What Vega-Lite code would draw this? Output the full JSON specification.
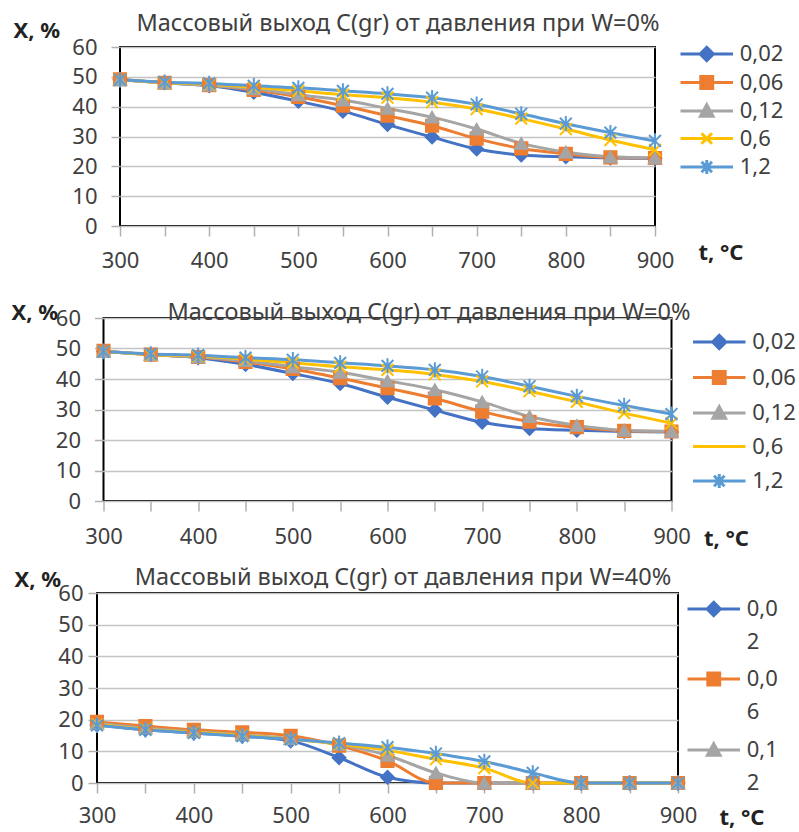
{
  "$schema": "https://vega.github.io/schema/vega-lite/v6.json",
  "background": "white",
  "padding": {"left": 10, "top": 10, "right": 0, "bottom": 0},
  "config": {
    "font": "Noto Sans",
    "view": {"stroke": "#000000", "strokeWidth": 2},
    "axis": {"labelFontSize": 22, "labelColor": "#404040", "titleFontSize": 22, "titleColor": "#222222", "titleFontWeight": "bold", "domain": false, "tickColor": "#b0b0b0", "tickWidth": 1.5, "gridColor": "#c4c4c4", "gridWidth": 1.5, "labelFont": "Noto Sans", "titleFont": "Noto Sans"},
    "title": {"fontSize": 23.5, "fontWeight": "normal", "color": "#404040", "font": "Noto Sans"},
    "legend": {"labelFontSize": 22, "labelColor": "#404040", "labelFont": "Noto Sans"},
    "style": {"guide-label": {"lineHeight": 33}}
  },
  "datasets": {
    "w0": [
      {"s": "0,02", "t": 300, "x": 49}, {"s": "0,02", "t": 350, "x": 48}, {"s": "0,02", "t": 400, "x": 47}, {"s": "0,02", "t": 450, "x": 44.8}, {"s": "0,02", "t": 500, "x": 41.8}, {"s": "0,02", "t": 550, "x": 38.5}, {"s": "0,02", "t": 600, "x": 34}, {"s": "0,02", "t": 650, "x": 29.8}, {"s": "0,02", "t": 700, "x": 25.8}, {"s": "0,02", "t": 750, "x": 23.8}, {"s": "0,02", "t": 800, "x": 23.2}, {"s": "0,02", "t": 850, "x": 22.8}, {"s": "0,02", "t": 900, "x": 22.6},
      {"s": "0,06", "t": 300, "x": 49.2}, {"s": "0,06", "t": 350, "x": 48}, {"s": "0,06", "t": 400, "x": 47.2}, {"s": "0,06", "t": 450, "x": 45.6}, {"s": "0,06", "t": 500, "x": 43.3}, {"s": "0,06", "t": 550, "x": 40.3}, {"s": "0,06", "t": 600, "x": 37}, {"s": "0,06", "t": 650, "x": 33.6}, {"s": "0,06", "t": 700, "x": 29.3}, {"s": "0,06", "t": 750, "x": 26}, {"s": "0,06", "t": 800, "x": 24.2}, {"s": "0,06", "t": 850, "x": 23}, {"s": "0,06", "t": 900, "x": 22.8},
      {"s": "0,12", "t": 300, "x": 49}, {"s": "0,12", "t": 350, "x": 48}, {"s": "0,12", "t": 400, "x": 47.2}, {"s": "0,12", "t": 450, "x": 46}, {"s": "0,12", "t": 500, "x": 44}, {"s": "0,12", "t": 550, "x": 42.2}, {"s": "0,12", "t": 600, "x": 39.4}, {"s": "0,12", "t": 650, "x": 36.5}, {"s": "0,12", "t": 700, "x": 32.5}, {"s": "0,12", "t": 750, "x": 27.7}, {"s": "0,12", "t": 800, "x": 24.8}, {"s": "0,12", "t": 850, "x": 23.2}, {"s": "0,12", "t": 900, "x": 22.8},
      {"s": "0,6", "t": 300, "x": 49}, {"s": "0,6", "t": 350, "x": 48}, {"s": "0,6", "t": 400, "x": 47.5}, {"s": "0,6", "t": 450, "x": 46.5}, {"s": "0,6", "t": 500, "x": 45.3}, {"s": "0,6", "t": 550, "x": 44}, {"s": "0,6", "t": 600, "x": 43}, {"s": "0,6", "t": 650, "x": 41.5}, {"s": "0,6", "t": 700, "x": 39.2}, {"s": "0,6", "t": 750, "x": 36}, {"s": "0,6", "t": 800, "x": 32.5}, {"s": "0,6", "t": 850, "x": 28.8}, {"s": "0,6", "t": 900, "x": 25.5},
      {"s": "1,2", "t": 300, "x": 49}, {"s": "1,2", "t": 350, "x": 48.2}, {"s": "1,2", "t": 400, "x": 47.8}, {"s": "1,2", "t": 450, "x": 47}, {"s": "1,2", "t": 500, "x": 46.3}, {"s": "1,2", "t": 550, "x": 45.3}, {"s": "1,2", "t": 600, "x": 44.3}, {"s": "1,2", "t": 650, "x": 43}, {"s": "1,2", "t": 700, "x": 40.8}, {"s": "1,2", "t": 750, "x": 37.6}, {"s": "1,2", "t": 800, "x": 34.3}, {"s": "1,2", "t": 850, "x": 31.3}, {"s": "1,2", "t": 900, "x": 28.5}
    ],
    "w40": [
      {"s": "0,02", "t": 300, "x": 18.3}, {"s": "0,02", "t": 350, "x": 16.8}, {"s": "0,02", "t": 400, "x": 15.8}, {"s": "0,02", "t": 450, "x": 14.8}, {"s": "0,02", "t": 500, "x": 13.3}, {"s": "0,02", "t": 550, "x": 8}, {"s": "0,02", "t": 600, "x": 1.8}, {"s": "0,02", "t": 650, "x": 0}, {"s": "0,02", "t": 700, "x": 0}, {"s": "0,02", "t": 750, "x": 0}, {"s": "0,02", "t": 800, "x": 0}, {"s": "0,02", "t": 850, "x": 0}, {"s": "0,02", "t": 900, "x": 0},
      {"s": "0,06", "t": 300, "x": 19.3}, {"s": "0,06", "t": 350, "x": 18}, {"s": "0,06", "t": 400, "x": 16.8}, {"s": "0,06", "t": 450, "x": 16}, {"s": "0,06", "t": 500, "x": 14.9}, {"s": "0,06", "t": 550, "x": 11.8}, {"s": "0,06", "t": 600, "x": 7}, {"s": "0,06", "t": 650, "x": 0}, {"s": "0,06", "t": 700, "x": 0}, {"s": "0,06", "t": 750, "x": 0}, {"s": "0,06", "t": 800, "x": 0}, {"s": "0,06", "t": 850, "x": 0}, {"s": "0,06", "t": 900, "x": 0},
      {"s": "0,12", "t": 300, "x": 18.8}, {"s": "0,12", "t": 350, "x": 17.3}, {"s": "0,12", "t": 400, "x": 16.2}, {"s": "0,12", "t": 450, "x": 15.2}, {"s": "0,12", "t": 500, "x": 14}, {"s": "0,12", "t": 550, "x": 12.2}, {"s": "0,12", "t": 600, "x": 8.7}, {"s": "0,12", "t": 650, "x": 3.2}, {"s": "0,12", "t": 700, "x": 0}, {"s": "0,12", "t": 750, "x": 0}, {"s": "0,12", "t": 800, "x": 0}, {"s": "0,12", "t": 850, "x": 0}, {"s": "0,12", "t": 900, "x": 0},
      {"s": "0,6", "t": 300, "x": 18.5}, {"s": "0,6", "t": 350, "x": 17}, {"s": "0,6", "t": 400, "x": 16}, {"s": "0,6", "t": 450, "x": 15}, {"s": "0,6", "t": 500, "x": 13.8}, {"s": "0,6", "t": 550, "x": 12.3}, {"s": "0,6", "t": 600, "x": 10.3}, {"s": "0,6", "t": 650, "x": 7.5}, {"s": "0,6", "t": 700, "x": 4.7}, {"s": "0,6", "t": 750, "x": 0}, {"s": "0,6", "t": 800, "x": 0}, {"s": "0,6", "t": 850, "x": 0}, {"s": "0,6", "t": 900, "x": 0},
      {"s": "1,2", "t": 300, "x": 18.2}, {"s": "1,2", "t": 350, "x": 16.8}, {"s": "1,2", "t": 400, "x": 15.8}, {"s": "1,2", "t": 450, "x": 14.8}, {"s": "1,2", "t": 500, "x": 13.8}, {"s": "1,2", "t": 550, "x": 12.6}, {"s": "1,2", "t": 600, "x": 11.3}, {"s": "1,2", "t": 650, "x": 9.3}, {"s": "1,2", "t": 700, "x": 6.8}, {"s": "1,2", "t": 750, "x": 3.2}, {"s": "1,2", "t": 800, "x": 0}, {"s": "1,2", "t": 850, "x": 0}, {"s": "1,2", "t": 900, "x": 0}
    ]
  },
  "bounds": "flush",
  "center": true,
  "spacing": 92,
  "resolve": {
    "scale": {"color": "independent", "stroke": "independent", "shape": "independent"},
    "legend": {"color": "independent", "stroke": "independent", "shape": "independent"}
  },
  "vconcat": [
    {
      "width": 535, "height": 179,
      "data": {"name": "w0"},
      "title": {"text": "Массовый выход C(gr) от давления при W=0%", "baseline": "alphabetic", "offset": -35, "dx": 10.5, "anchor": "middle"},
      "encoding": {
        "x": {"field": "t", "type": "quantitative", "scale": {"domain": [300, 900], "nice": false, "zero": false},
              "axis": {"values": [300, 350, 400, 450, 500, 550, 600, 650, 700, 750, 800, 850, 900], "labelExpr": "datum.value % 100 === 0 ? datum.label : ''", "grid": false, "tickSize": 10, "labelPadding": 14, "labelFlush": false, "labelOverlap": false,
                       "title": "t, °C", "titleAngle": 0, "titleAlign": "left", "titleBaseline": "middle", "titleX": 578, "titleY": 26}},
        "y": {"field": "x", "type": "quantitative", "scale": {"domain": [0, 60], "nice": false},
              "axis": {"values": [0, 10, 20, 30, 40, 50, 60], "grid": true, "tickSize": 9, "labelPadding": 14,
                       "title": "X, %", "titleAngle": 0, "titleAlign": "left", "titleBaseline": "middle", "titleX": -107, "titleY": -17}}
      },
      "layer": [
        {"mark": {"type": "line", "interpolate": "monotone", "strokeWidth": 3},
         "encoding": {"stroke": {"field": "s", "type": "nominal", "scale": {"domain": ["0,02", "0,06", "0,12", "0,6", "1,2"], "range": ["#4472c4", "#ed7d31", "#a5a5a5", "#ffc000", "#5b9bd5"]}}}},
        {"transform": [{"filter": "datum.s === '0,02'"}], "mark": {"type": "point", "filled": true, "shape": "diamond", "size": 180, "strokeWidth": 1.5, "opacity": 1},
         "encoding": {"color": {"field": "s", "type": "nominal"}, "stroke": {"field": "s", "type": "nominal"}}},
        {"transform": [{"filter": "datum.s === '0,06'"}], "mark": {"type": "point", "filled": true, "shape": "square", "size": 160, "strokeWidth": 1.5, "opacity": 1},
         "encoding": {"color": {"field": "s", "type": "nominal"}, "stroke": {"field": "s", "type": "nominal"}}},
        {"transform": [{"filter": "datum.s === '0,12'"}], "mark": {"type": "point", "filled": true, "shape": "triangle-up", "size": 170, "strokeWidth": 1.5, "opacity": 1},
         "encoding": {"color": {"field": "s", "type": "nominal"}, "stroke": {"field": "s", "type": "nominal"}}},
        {"transform": [{"filter": "datum.s === '0,6'"}], "mark": {"type": "point", "filled": true, "shape": "M-1,-1L1,1M1,-1L-1,1", "size": 140, "strokeWidth": 2, "opacity": 1},
         "encoding": {"color": {"field": "s", "type": "nominal"}, "stroke": {"field": "s", "type": "nominal"}}},
        {"transform": [{"filter": "datum.s === '1,2'"}], "mark": {"type": "point", "filled": true, "shape": "M-1,-1L1,1M1,-1L-1,1M0,-1.3L0,1.3", "size": 140, "strokeWidth": 2, "opacity": 1},
         "encoding": {"color": {"field": "s", "type": "nominal"}, "stroke": {"field": "s", "type": "nominal"}}},
        {"transform": [{"filter": "datum.t < 0"}], "mark": {"type": "point", "filled": true, "opacity": 1},
         "encoding": {
           "stroke": {"field": "s", "type": "nominal"},
           "shape": {"field": "s", "type": "nominal", "scale": {"domain": ["0,02", "0,06", "0,12", "0,6", "1,2"], "range": ["M-3.75,0H3.75M0,-0.95L0.95,0L0,0.95L-0.95,0Z", "M-3.75,0H3.75M-0.85,-0.85H0.85V0.85H-0.85Z", "M-3.75,0H3.75M0,-0.9L0.9,0.75L-0.9,0.75Z", "M-3.75,0H3.75M-0.75,-0.75L0.75,0.75M0.75,-0.75L-0.75,0.75", "M-3.75,0H3.75M-0.75,-0.75L0.75,0.75M0.75,-0.75L-0.75,0.75M0,-1L0,1"]}},
           "color": {"field": "s", "type": "nominal", "scale": {"domain": ["0,02", "0,06", "0,12", "0,6", "1,2"], "range": ["#4472c4", "#ed7d31", "#a5a5a5", "#ffc000", "#5b9bd5"]},
             "legend": {"title": null, "orient": "none", "legendX": 575.75, "legendY": -4, "padding": 0, "symbolOffset": 0, "symbolSize": 196, "symbolStrokeWidth": 3, "labelOffset": 22, "rowPadding": 3.5, "labelBaseline": "middle"}}
         }}
      ]
    },
    {
      "width": 568, "height": 183,
      "data": {"name": "w0"},
      "title": {"text": "Массовый выход C(gr) от давления при W=0%", "baseline": "alphabetic", "offset": -42, "dx": 41.5, "anchor": "middle"},
      "encoding": {
        "x": {"field": "t", "type": "quantitative", "scale": {"domain": [300, 900], "nice": false, "zero": false},
              "axis": {"values": [300, 350, 400, 450, 500, 550, 600, 650, 700, 750, 800, 850, 900], "labelExpr": "datum.value % 100 === 0 ? datum.label : ''", "grid": false, "tickSize": 10, "labelPadding": 15, "labelFlush": false, "labelOverlap": false,
                       "title": "t, °C", "titleAngle": 0, "titleAlign": "left", "titleBaseline": "middle", "titleX": 600, "titleY": 37}},
        "y": {"field": "x", "type": "quantitative", "scale": {"domain": [0, 60], "nice": false},
              "axis": {"values": [0, 10, 20, 30, 40, 50, 60], "grid": true, "tickSize": 9, "labelPadding": 14,
                       "title": "X, %", "titleAngle": 0, "titleAlign": "left", "titleBaseline": "middle", "titleX": -92.5, "titleY": -6}}
      },
      "layer": [
        {"mark": {"type": "line", "interpolate": "monotone", "strokeWidth": 3},
         "encoding": {"stroke": {"field": "s", "type": "nominal", "scale": {"domain": ["0,02", "0,06", "0,12", "0,6", "1,2"], "range": ["#4472c4", "#ed7d31", "#a5a5a5", "#ffc000", "#5b9bd5"]}}}},
        {"transform": [{"filter": "datum.s === '0,02'"}], "mark": {"type": "point", "filled": true, "shape": "diamond", "size": 180, "strokeWidth": 1.5, "opacity": 1},
         "encoding": {"color": {"field": "s", "type": "nominal"}, "stroke": {"field": "s", "type": "nominal"}}},
        {"transform": [{"filter": "datum.s === '0,06'"}], "mark": {"type": "point", "filled": true, "shape": "square", "size": 160, "strokeWidth": 1.5, "opacity": 1},
         "encoding": {"color": {"field": "s", "type": "nominal"}, "stroke": {"field": "s", "type": "nominal"}}},
        {"transform": [{"filter": "datum.s === '0,12'"}], "mark": {"type": "point", "filled": true, "shape": "triangle-up", "size": 170, "strokeWidth": 1.5, "opacity": 1},
         "encoding": {"color": {"field": "s", "type": "nominal"}, "stroke": {"field": "s", "type": "nominal"}}},
        {"transform": [{"filter": "datum.s === '0,6'"}], "mark": {"type": "point", "filled": true, "shape": "M-1,-1L1,1M1,-1L-1,1", "size": 140, "strokeWidth": 2, "opacity": 1},
         "encoding": {"color": {"field": "s", "type": "nominal"}, "stroke": {"field": "s", "type": "nominal"}}},
        {"transform": [{"filter": "datum.s === '1,2'"}], "mark": {"type": "point", "filled": true, "shape": "M-1,-1L1,1M1,-1L-1,1M0,-1.3L0,1.3", "size": 140, "strokeWidth": 2, "opacity": 1},
         "encoding": {"color": {"field": "s", "type": "nominal"}, "stroke": {"field": "s", "type": "nominal"}}},
        {"transform": [{"filter": "datum.t < 0"}], "mark": {"type": "point", "filled": true, "opacity": 1},
         "encoding": {
           "stroke": {"field": "s", "type": "nominal"},
           "shape": {"field": "s", "type": "nominal", "scale": {"domain": ["0,02", "0,06", "0,12", "0,6", "1,2"], "range": ["M-3.75,0H3.75M0,-0.95L0.95,0L0,0.95L-0.95,0Z", "M-3.75,0H3.75M-0.85,-0.85H0.85V0.85H-0.85Z", "M-3.75,0H3.75M0,-0.9L0.9,0.75L-0.9,0.75Z", "M-3.75,0H3.75", "M-3.75,0H3.75M-0.75,-0.75L0.75,0.75M0.75,-0.75L-0.75,0.75M0,-1L0,1"]}},
           "color": {"field": "s", "type": "nominal", "scale": {"domain": ["0,02", "0,06", "0,12", "0,6", "1,2"], "range": ["#4472c4", "#ed7d31", "#a5a5a5", "#ffc000", "#5b9bd5"]},
             "legend": {"title": null, "orient": "none", "legendX": 604.75, "legendY": 13, "padding": 0, "symbolOffset": 0, "symbolSize": 196, "symbolStrokeWidth": 3, "labelOffset": 22, "rowPadding": 10.5, "labelBaseline": "middle"}}
         }}
      ]
    },
    {
      "width": 581, "height": 190,
      "data": {"name": "w40"},
      "title": {"text": "Массовый выход C(gr) от давления при W=40%", "baseline": "alphabetic", "offset": -40, "dx": 15.5, "anchor": "middle"},
      "encoding": {
        "x": {"field": "t", "type": "quantitative", "scale": {"domain": [300, 900], "nice": false, "zero": false},
              "axis": {"values": [300, 350, 400, 450, 500, 550, 600, 650, 700, 750, 800, 850, 900], "labelExpr": "datum.value % 100 === 0 ? datum.label : ''", "grid": false, "tickSize": 10, "labelPadding": 12, "labelFlush": false, "labelOverlap": false,
                       "title": "t, °C", "titleAngle": 0, "titleAlign": "left", "titleBaseline": "middle", "titleX": 622, "titleY": 34}},
        "y": {"field": "x", "type": "quantitative", "scale": {"domain": [0, 60], "nice": false},
              "axis": {"values": [0, 10, 20, 30, 40, 50, 60], "grid": true, "tickSize": 9, "labelPadding": 5,
                       "title": "X, %", "titleAngle": 0, "titleAlign": "left", "titleBaseline": "middle", "titleX": -83, "titleY": -14}}
      },
      "layer": [
        {"mark": {"type": "line", "interpolate": "monotone", "strokeWidth": 3},
         "encoding": {"stroke": {"field": "s", "type": "nominal", "scale": {"domain": ["0,02", "0,06", "0,12", "0,6", "1,2"], "range": ["#4472c4", "#ed7d31", "#a5a5a5", "#ffc000", "#5b9bd5"]}}}},
        {"transform": [{"filter": "datum.s === '0,02'"}], "mark": {"type": "point", "filled": true, "shape": "diamond", "size": 180, "strokeWidth": 1.5, "opacity": 1},
         "encoding": {"color": {"field": "s", "type": "nominal"}, "stroke": {"field": "s", "type": "nominal"}}},
        {"transform": [{"filter": "datum.s === '0,06'"}], "mark": {"type": "point", "filled": true, "shape": "square", "size": 160, "strokeWidth": 1.5, "opacity": 1},
         "encoding": {"color": {"field": "s", "type": "nominal"}, "stroke": {"field": "s", "type": "nominal"}}},
        {"transform": [{"filter": "datum.s === '0,12'"}], "mark": {"type": "point", "filled": true, "shape": "triangle-up", "size": 170, "strokeWidth": 1.5, "opacity": 1},
         "encoding": {"color": {"field": "s", "type": "nominal"}, "stroke": {"field": "s", "type": "nominal"}}},
        {"transform": [{"filter": "datum.s === '0,6'"}], "mark": {"type": "point", "filled": true, "shape": "M-1,-1L1,1M1,-1L-1,1", "size": 140, "strokeWidth": 2, "opacity": 1},
         "encoding": {"color": {"field": "s", "type": "nominal"}, "stroke": {"field": "s", "type": "nominal"}}},
        {"transform": [{"filter": "datum.s === '1,2'"}], "mark": {"type": "point", "filled": true, "shape": "M-1,-1L1,1M1,-1L-1,1M0,-1.3L0,1.3", "size": 140, "strokeWidth": 2, "opacity": 1},
         "encoding": {"color": {"field": "s", "type": "nominal"}, "stroke": {"field": "s", "type": "nominal"}}},
        {"transform": [{"filter": "datum.t < 0"}], "mark": {"type": "point", "filled": true, "opacity": 1},
         "encoding": {
           "stroke": {"field": "s", "type": "nominal"},
           "shape": {"field": "s", "type": "nominal", "scale": {"domain": ["0,02", "0,06", "0,12", "0,6", "1,2"], "range": ["M-3.75,0H3.75M0,-0.95L0.95,0L0,0.95L-0.95,0Z", "M-3.75,0H3.75M-0.85,-0.85H0.85V0.85H-0.85Z", "M-3.75,0H3.75M0,-0.9L0.9,0.75L-0.9,0.75Z", "M-3.75,0H3.75M-0.75,-0.75L0.75,0.75M0.75,-0.75L-0.75,0.75", "M-3.75,0H3.75M-0.75,-0.75L0.75,0.75M0.75,-0.75L-0.75,0.75M0,-1L0,1"]}},
           "color": {"field": "s", "type": "nominal", "scale": {"domain": ["0,02", "0,06", "0,12", "0,6", "1,2"], "range": ["#4472c4", "#ed7d31", "#a5a5a5", "#ffc000", "#5b9bd5"]},
             "legend": {"title": null, "orient": "none", "legendX": 605.75, "legendY": 5, "padding": 0, "symbolOffset": 0, "symbolSize": 196, "symbolStrokeWidth": 3, "labelOffset": 22, "rowPadding": 14,
               "values": ["0,02", "0,06", "0,12"],
               "labelExpr": "[slice(datum.label, 0, 3), slice(datum.label, 3)]",
               "labelBaseline": "middle"}}
         }}
      ]
    }
  ]
}
